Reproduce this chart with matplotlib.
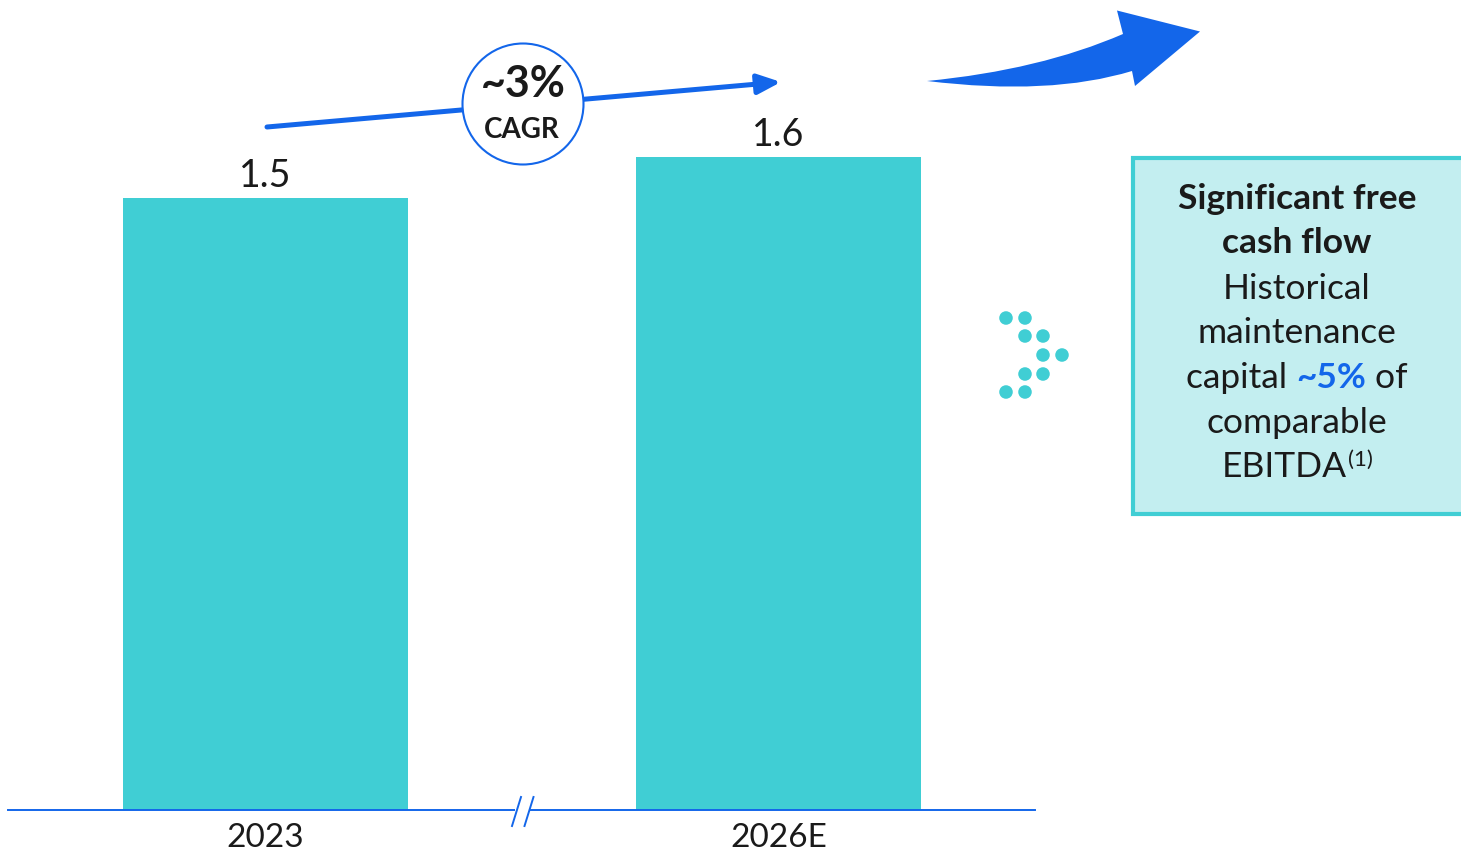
import matplotlib
matplotlib.use("Agg")
import matplotlib.pyplot as plt
from matplotlib.patches import Circle, Rectangle, PathPatch
from matplotlib.path import Path

# ---- data ----
categories = ["2023", "2026E"]
values = [1.5, 1.6]
value_labels = ["1.5", "1.6"]
cagr_text = "~3%"
cagr_sub = "CAGR"
box_title = ["Significant free", "cash flow"]
box_lines = ["Historical", "maintenance"]
box_rich = ["capital ", "~5%", " of"]
box_tail = ["comparable"]
box_last = ["EBITDA", "(1)"]

TEAL = "#40CED4"
BLUE = "#1366EA"
DARK = "#1a1a1a"
BOXFILL = "#C3EEF0"
FONT = "Lato"

W, H = 1461, 855
fig = plt.figure(figsize=(W / 100, H / 100), dpi=100)

# bar axes: x 8..1035 px, y from 810 px (bottom) to 0 px (top)
ax = fig.add_axes([8 / W, (H - 810) / H, (1035 - 8) / W, 810 / H])
pos = [0, 1]
bars = ax.bar(pos, values, width=0.555, color=TEAL, zorder=2)
ax.set_xlim(-0.502, 1.5)
ax.set_ylim(0, 1.985)
ax.set_xticks(pos)
ax.set_xticklabels(categories, fontsize=24, fontfamily=FONT, color=DARK)
ax.tick_params(axis="x", length=0, pad=9)
ax.set_yticks([])
for s in ["top", "right", "left"]:
    ax.spines[s].set_visible(False)
ax.spines["bottom"].set_color(BLUE)
ax.spines["bottom"].set_linewidth(1.4)
ax.bar_label(bars, labels=value_labels, padding=3, fontsize=27,
             fontfamily=FONT, color=DARK)

# overlay axes in pixel coords
ov = fig.add_axes([0, 0, 1, 1], zorder=5)
ov.set_xlim(0, W)
ov.set_ylim(H, 0)
ov.axis("off")
ov.patch.set_alpha(0)

# axis break
ov.plot([515, 530], [810, 810], color="white", lw=3, solid_capstyle="butt")
ov.plot([512, 521], [826, 797], color=BLUE, lw=1.4)
ov.plot([524.5, 533.5], [826, 797], color=BLUE, lw=1.4)

# CAGR trend arrow
ov.annotate("", xy=(781, 82), xytext=(267, 127),
            arrowprops=dict(arrowstyle="-|>,head_length=0.7,head_width=0.3",
                            lw=3.6, color=BLUE, mutation_scale=20,
                            shrinkA=0, shrinkB=0))
ov.add_patch(Circle((523, 104), 60.5, facecolor="white", edgecolor=BLUE,
                    lw=1.5, zorder=3))
ov.text(523, 84, cagr_text, ha="center", va="center", fontsize=31,
        fontweight="bold", fontfamily=FONT, color=DARK, zorder=4)
ov.text(522, 130, cagr_sub, ha="center", va="center", fontsize=20,
        fontweight="bold", fontfamily=FONT, color=DARK, zorder=4)

# big curved arrow
verts = [(927, 81), (1040, 70), (1123, 34), (1117, 10.5), (1200, 31.5),
         (1135, 86), (1132, 71), (1050, 96), (927, 81), (927, 81)]
codes = [Path.MOVETO, Path.CURVE3, Path.CURVE3, Path.LINETO, Path.LINETO,
         Path.LINETO, Path.LINETO, Path.CURVE3, Path.CURVE3, Path.CLOSEPOLY]
ov.add_patch(PathPatch(Path(verts, codes), facecolor=BLUE, edgecolor="none"))

# dotted chevron
dot_x = [1006, 1025, 1025, 1043, 1043, 1062, 1025, 1043, 1006, 1025]
dot_y = [318, 318, 336, 336, 355, 355, 374, 374, 392, 392]
ov.scatter(dot_x, dot_y, s=95, color=TEAL, edgecolors="none")

# info box
ov.add_patch(Rectangle((1133, 158), 400, 356, facecolor=BOXFILL,
                       edgecolor=TEAL, lw=3))

cx = 1297
ys = [199, 243, 289, 333, 378, 423, 467]
fs = 25.5
ov.text(cx, ys[0], box_title[0], ha="center", va="center", fontsize=fs,
        fontweight="bold", fontfamily=FONT, color=DARK)
ov.text(cx, ys[1], box_title[1], ha="center", va="center", fontsize=fs,
        fontweight="bold", fontfamily=FONT, color=DARK)
ov.text(cx, ys[2], box_lines[0], ha="center", va="center", fontsize=fs,
        fontfamily=FONT, color=DARK)
ov.text(cx, ys[3], box_lines[1], ha="center", va="center", fontsize=fs,
        fontfamily=FONT, color=DARK)
ov.text(cx, ys[5], box_tail[0], ha="center", va="center", fontsize=fs,
        fontfamily=FONT, color=DARK)

# rich line: measure pieces
fig.canvas.draw()
r = fig.canvas.get_renderer()


def width_px(s, size=fs, **kw):
    t = ov.text(0, 0, s, fontsize=size, fontfamily=FONT, **kw)
    bb = t.get_window_extent(renderer=r)
    t.remove()
    return bb.width


styles = [dict(color=DARK), dict(color=BLUE, fontweight="bold"), dict(color=DARK)]
widths = [width_px(s, **st) for s, st in zip(box_rich, styles)]
x = cx - sum(widths) / 2
for s, st, w in zip(box_rich, styles, widths):
    ov.text(x, ys[4], s, ha="left", va="center", fontsize=fs, fontfamily=FONT, **st)
    x += w

sup = 16
w1 = width_px(box_last[0], color=DARK)
w2 = width_px(box_last[1], size=sup)
x0 = cx - (w1 + w2) / 2
ov.text(x0, ys[6], box_last[0], ha="left", va="center", fontsize=fs,
        fontfamily=FONT, color=DARK)
ov.text(x0 + w1 + 1, ys[6] - 7, box_last[1], ha="left", va="center", fontsize=sup,
        fontfamily=FONT, color=DARK)

fig.savefig("out.png", dpi=100)
